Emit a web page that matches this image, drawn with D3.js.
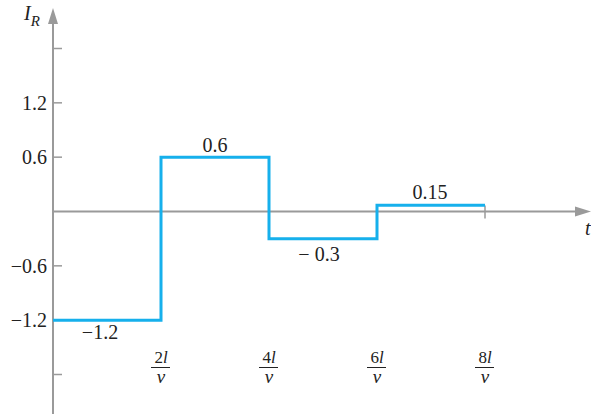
<!DOCTYPE html>
<html>
<head>
<meta charset="utf-8">
<script src="https://cdn.jsdelivr.net/npm/d3@7"></script>
<style>
  body { margin: 0; background: #fff; }
  svg text { font-family: "Liberation Serif", "Times New Roman", Times, serif; fill: #222; }
</style>
</head>
<body>
<script>
// step levels of I_R as drawn (time in units of l/v)
var segStart = [0, 2, 4, 6];
var segEnd = [2, 4, 6, 8];
var segValue = [-1.2, 0.6, -0.3, 0.07];
var segLabel = ["\u22121.2", "0.6", "\u2212 0.3", "0.15"];

var yTicks = [-1.8, -1.2, -0.6, 0.6, 1.2, 1.8];
var yTickLabels = ["", "\u22121.2", "\u22120.6", "0.6", "1.2", ""];
var xTicks = [2, 4, 6, 8];
var xTickNum = ["2", "4", "6", "8"];

var width = 591, height = 414;

var svg = d3.select("body").append("svg")
    .attr("width", width)
    .attr("height", height)
    .attr("font-family", "Liberation Serif, serif");

var x = d3.scaleLinear().domain([0, 8]).range([53, 485]);
var y = d3.scaleLinear().domain([-1.8, 1.8]).range([374.5, 48.5]);

var axisColor = "#9a9a9a";

// y axis line + arrow
svg.append("line")
    .attr("x1", x(0)).attr("x2", x(0))
    .attr("y1", 414).attr("y2", 18)
    .style("stroke", axisColor).style("stroke-width", 2);
svg.append("path")
    .attr("d", "M" + x(0) + ",8 L" + (x(0) - 5) + ",24 L" + (x(0) + 5) + ",24 Z")
    .style("fill", axisColor);

// x axis line + arrow
svg.append("line")
    .attr("x1", x(0)).attr("x2", 578)
    .attr("y1", y(0)).attr("y2", y(0))
    .style("stroke", axisColor).style("stroke-width", 2);
svg.append("path")
    .attr("d", "M591," + y(0) + " L575," + (y(0) - 5) + " L575," + (y(0) + 5) + " Z")
    .style("fill", axisColor);

// y ticks
svg.selectAll("line.ytick")
    .data(yTicks)
    .enter()
    .append("line")
    .attr("class", "ytick")
    .attr("x1", x(0)).attr("x2", x(0) + 9)
    .attr("y1", function(d) { return y(d); })
    .attr("y2", function(d) { return y(d); })
    .style("stroke", axisColor).style("stroke-width", 1.5);

svg.selectAll("text.ylab")
    .data(yTicks)
    .enter()
    .append("text")
    .attr("class", "ylab")
    .attr("x", x(0) - 6)
    .attr("y", function(d) { return y(d) + 7; })
    .attr("text-anchor", "end")
    .style("font-size", "20px")
    .text(function(d, i) { return yTickLabels[i]; });

// x ticks
svg.selectAll("line.xtick")
    .data(xTicks)
    .enter()
    .append("line")
    .attr("class", "xtick")
    .attr("x1", function(d) { return x(d); })
    .attr("x2", function(d) { return x(d); })
    .attr("y1", y(0) - 6).attr("y2", y(0) + 7)
    .style("stroke", axisColor).style("stroke-width", 1.5);

// fraction labels  nl / v
var frac = svg.selectAll("g.frac")
    .data(xTicks)
    .enter()
    .append("g")
    .attr("class", "frac")
    .attr("transform", function(d) { return "translate(" + x(d) + ",0)"; });

var num = frac.append("text")
    .attr("y", 363)
    .attr("text-anchor", "middle")
    .style("font-size", "17px");
num.append("tspan").text(function(d, i) { return xTickNum[i]; });
num.append("tspan").style("font-style", "italic").text("l");

frac.append("line")
    .attr("x1", -10).attr("x2", 9)
    .attr("y1", 367.5).attr("y2", 367.5)
    .style("stroke", "#222").style("stroke-width", 1);

frac.append("text")
    .attr("y", 383)
    .attr("text-anchor", "middle")
    .style("font-size", "19px")
    .style("font-style", "italic")
    .text("v");

// step line
var pts = [];
segValue.forEach(function(v, i) {
  pts.push([segStart[i], v]);
  pts.push([segEnd[i], v]);
});
var line = d3.line()
    .x(function(d) { return x(d[0]); })
    .y(function(d) { return y(d[1]); });

svg.append("path")
    .datum(pts)
    .attr("d", line)
    .style("fill", "none")
    .style("stroke", "#16b0ec")
    .style("stroke-width", 3);

// value labels
var labDx = [-7, 0, -4, -1];
var labDy = [19, -5, 22, -6];
svg.selectAll("text.val")
    .data(segValue)
    .enter()
    .append("text")
    .attr("class", "val")
    .attr("x", function(d, i) { return x((segStart[i] + segEnd[i]) / 2) + labDx[i]; })
    .attr("y", function(d, i) { return y(d) + labDy[i]; })
    .attr("text-anchor", "middle")
    .style("font-size", "20px")
    .text(function(d, i) { return segLabel[i]; });

// axis names
var iy = svg.append("text")
    .attr("x", 24).attr("y", 20)
    .style("font-size", "20px")
    .style("font-style", "italic");
iy.append("tspan").text("I");
iy.append("tspan").attr("dy", 6).style("font-size", "15px").text("R");

svg.append("text")
    .attr("x", 585).attr("y", 235)
    .style("font-size", "20px")
    .style("font-style", "italic")
    .text("t");
</script>
</body>
</html>
